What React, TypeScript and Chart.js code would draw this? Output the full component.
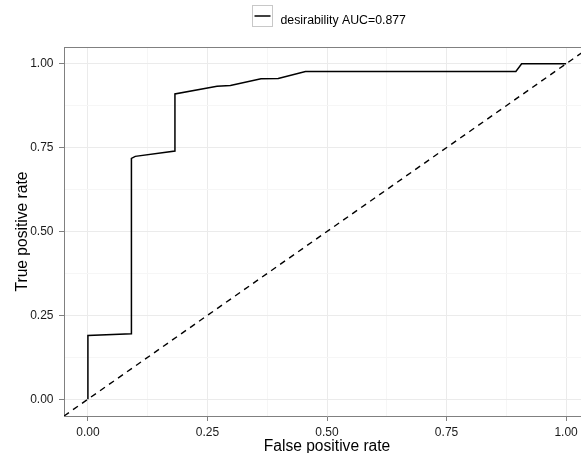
import React, { useEffect, useRef } from "react";
import { Chart, registerables } from "chart.js";

Chart.register(...registerables);

// ROC curve points (false positive rate, true positive rate)
const fpr = [0, 0, 0.091, 0.091, 0.099, 0.182, 0.182, 0.27, 0.298, 0.362, 0.398, 0.455, 0.895, 0.907, 1.0];
const tpr = [0, 0.19, 0.195, 0.718, 0.724, 0.74, 0.91, 0.933, 0.935, 0.955, 0.956, 0.977, 0.977, 1.0, 1.0];

// reference diagonal (abline, spans the full panel)
const refX = [-0.05, 1.05];
const refY = [-0.05, 1.05];

const majorTicks = [0, 0.25, 0.5, 0.75, 1.0];
const minorTicks = [0.125, 0.375, 0.625, 0.875];
const legendLabel = "desirability AUC=0.877";
const xTitle = "False positive rate";
const yTitle = "True positive rate";

const FONT = "'Liberation Sans', Arial, Helvetica, sans-serif";

const isMajor = (v: number) => majorTicks.some((m) => Math.abs(m - v) < 1e-9);

const allTicks = [...majorTicks, ...minorTicks].sort((a, b) => a - b);

const legendAndBorder = {
  id: "legendAndBorder",
  afterDraw(chart: any) {
    const { ctx, chartArea } = chart;
    ctx.save();
    // top border of panel
    ctx.strokeStyle = "#808080";
    ctx.lineWidth = 1;
    ctx.beginPath();
    ctx.moveTo(chartArea.left, Math.round(chartArea.top) + 0.5);
    ctx.lineTo(chartArea.right, Math.round(chartArea.top) + 0.5);
    ctx.stroke();
    // legend key box
    const bx = 252.5, by = 5.5, bw = 20, bh = 21;
    ctx.strokeStyle = "#c8c8c8";
    ctx.lineWidth = 1;
    ctx.strokeRect(bx, by, bw, bh);
    ctx.strokeStyle = "#000";
    ctx.lineWidth = 1.5;
    ctx.beginPath();
    ctx.moveTo(bx + 2, 16);
    ctx.lineTo(bx + bw - 2, 16);
    ctx.stroke();
    ctx.fillStyle = "#000";
    ctx.font = `12.3px ${FONT}`;
    ctx.textBaseline = "alphabetic";
    ctx.textAlign = "left";
    ctx.fillText(legendLabel, 280.5, 23.5);
    ctx.restore();
  },
};

export default function App() {
  const ref = useRef<HTMLCanvasElement | null>(null);

  useEffect(() => {
    document.body.style.margin = "0";
    document.body.style.overflow = "hidden";
    document.documentElement.style.overflow = "hidden";
    const canvas = ref.current!;
    const chart = new Chart(canvas, {
      type: "scatter",
      data: {
        datasets: [
          {
            data: fpr.map((x, i) => ({ x, y: tpr[i] })),
            showLine: true,
            borderColor: "#000",
            borderWidth: 1.5,
            pointRadius: 0,
            tension: 0,
          },
          {
            data: refX.map((x, i) => ({ x, y: refY[i] })),
            showLine: true,
            borderColor: "#000",
            borderWidth: 1.4,
            borderDash: [6, 5],
            pointRadius: 0,
          },
        ],
      },
      options: {
        responsive: false,
        animation: false,
        devicePixelRatio: 1,
        layout: { padding: { top: 47, right: 10, left: 0, bottom: 0 } },
        plugins: { legend: { display: false }, tooltip: { enabled: false } },
        scales: {
          x: {
            type: "linear",
            min: -0.05,
            max: 1.05,
            afterBuildTicks: (scale: any) => {
              scale.ticks = allTicks.map((v) => ({ value: v }));
            },
            afterFit: (scale: any) => {
              scale.height = 37;
            },
            ticks: {
              autoSkip: false,
              maxRotation: 0,
              padding: 4.5,
              color: "#1a1a1a",
              font: { family: FONT, size: 12 },
              callback: (v: any) => (isMajor(Number(v)) ? Number(v).toFixed(2) : ""),
            },
            grid: {
              color: (c: any) => (isMajor(c.tick?.value) ? "#ebebeb" : "#f6f6f6"),
              tickColor: (c: any) => (isMajor(c.tick?.value) ? "#808080" : "rgba(0,0,0,0)"),
              tickLength: 5,
              lineWidth: 1,
            },
            border: { color: "#808080", width: 1 },
            title: {
              display: true,
              text: xTitle,
              color: "#000",
              font: { family: FONT, size: 15.6 },
              padding: { top: 0, bottom: -2.8 },
            },
          },
          y: {
            type: "linear",
            min: -0.05,
            max: 1.05,
            afterBuildTicks: (scale: any) => {
              scale.ticks = allTicks.map((v) => ({ value: v }));
            },
            afterFit: (scale: any) => {
              scale.width = 64;
            },
            ticks: {
              autoSkip: false,
              padding: 5.5,
              color: "#1a1a1a",
              font: { family: FONT, size: 12 },
              callback: (v: any) => (isMajor(Number(v)) ? Number(v).toFixed(2) : ""),
            },
            grid: {
              color: (c: any) => (isMajor(c.tick?.value) ? "#ebebeb" : "#f6f6f6"),
              tickColor: (c: any) => (isMajor(c.tick?.value) ? "#808080" : "rgba(0,0,0,0)"),
              tickLength: 5,
              lineWidth: 1,
            },
            border: { color: "#808080", width: 1 },
            title: {
              display: true,
              text: yTitle,
              color: "#000",
              font: { family: FONT, size: 15.6 },
              padding: { top: 13, bottom: 0 },
            },
          },
        },
      },
      plugins: [legendAndBorder],
    });
    return () => chart.destroy();
  }, []);

  return (
    <div style={{ position: "fixed", left: 0, top: 0, width: 600, height: 453, background: "#fff" }}>
      <canvas ref={ref} width={600} height={453} style={{ display: "block" }} />
    </div>
  );
}
